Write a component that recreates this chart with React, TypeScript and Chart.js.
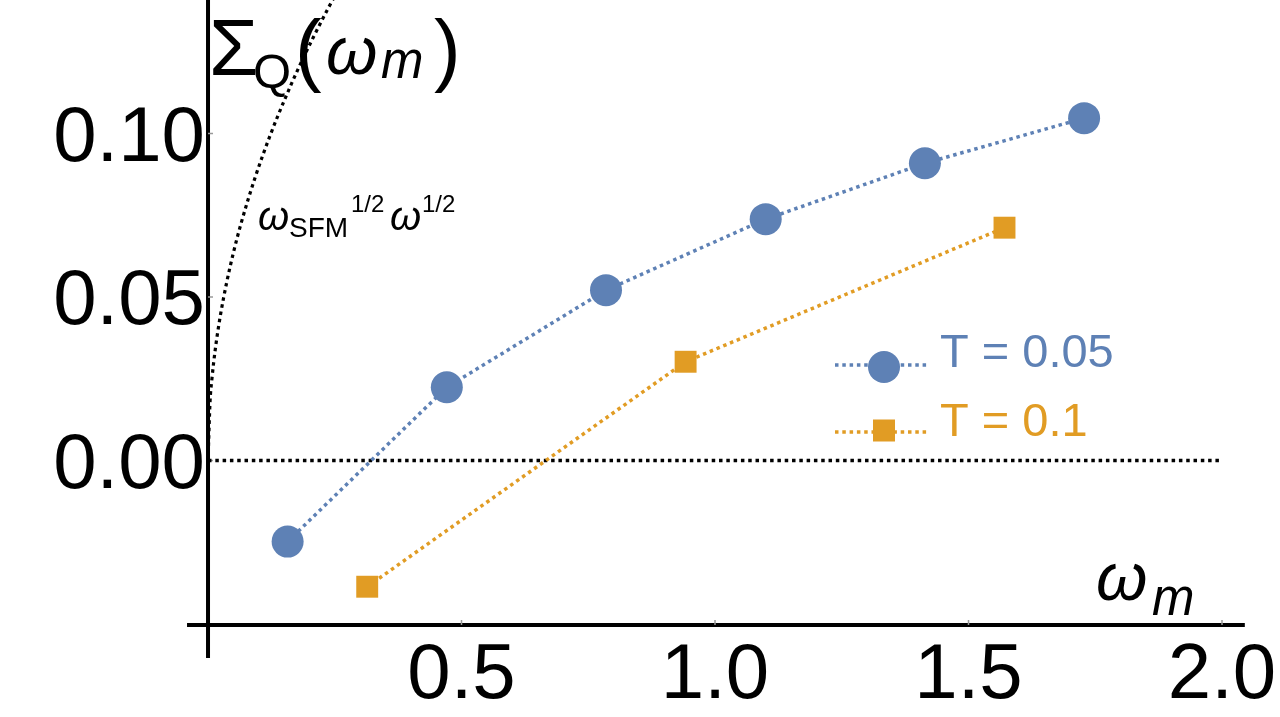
import { useEffect, useRef } from "react"
import { Chart, registerables, type Plugin } from "chart.js"

Chart.register(...registerables)

// Matsubara frequencies and self-energy
const omegaT005 = [0.157, 0.471, 0.785, 1.1, 1.414, 1.728]
const sigmaT005 = [-0.0248, 0.0224, 0.0521, 0.0738, 0.0909, 0.1047]
const omegaT01 = [0.314, 0.942, 1.571]
const sigmaT01 = [-0.0386, 0.0302, 0.0712]

// dotted guide curve (ω_SFM^1/2 ω^1/2)
const guideOmega = [0, 0.004, 0.008, 0.014, 0.024, 0.037, 0.05, 0.065, 0.093, 0.122, 0.152, 0.18, 0.207, 0.237, 0.26]
const guideSigma = [0, 0.018, 0.0254, 0.0336, 0.044, 0.0546, 0.0635, 0.0724, 0.0866, 0.0992, 0.1107, 0.1205, 0.1292, 0.1383, 0.1448]

const zeroOmega = [0, 2.0]
const zeroSigma = [0, 0]

const xTicks = [0.5, 1.0, 1.5, 2.0]
const yTicks = [0.0, 0.05, 0.1]
const seriesNames = ["T = 0.05", "T = 0.1"]

const BLUE = "#5e81b5"
const ORANGE = "#e19c24"
const FONT = '"Liberation Sans", Arial, sans-serif'
const DOT = [3.5, 3.8]

const X_MIN = -0.4103
const X_MAX = 2.1144
const Y_MIN = -0.07844
const Y_MAX = 0.14083
const X_AXIS_AT = -0.0503

const pts = (xs: number[], ys: number[]) => xs.map((x, i) => ({ x, y: ys[i] }))

function txt(ctx: CanvasRenderingContext2D, s: string, x: number, y: number, font: string, align: CanvasTextAlign = "left") {
  ctx.font = font
  ctx.textAlign = align
  ctx.fillText(s, x, y)
}

const frame: Plugin = {
  id: "frame",
  beforeDatasetsDraw(chart) {
    const { ctx } = chart
    const x = chart.scales.x
    const y = chart.scales.y
    const x0 = x.getPixelForValue(0)
    const yAxis = y.getPixelForValue(X_AXIS_AT)
    ctx.save()
    ctx.strokeStyle = "#000"
    ctx.lineWidth = 4
    ctx.beginPath()
    ctx.moveTo(x0, y.getPixelForValue(Y_MAX))
    ctx.lineTo(x0, y.getPixelForValue(-0.0604))
    ctx.moveTo(x.getPixelForValue(-0.0414), yAxis)
    ctx.lineTo(x.getPixelForValue(2.045), yAxis)
    ctx.stroke()

    // tiny tick marks
    ctx.strokeStyle = "#999"
    ctx.lineWidth = 1.5
    ctx.beginPath()
    xTicks.forEach((t) => {
      const px = x.getPixelForValue(t)
      ctx.moveTo(px, yAxis)
      ctx.lineTo(px, yAxis - 5)
    })
    yTicks.forEach((t) => {
      const py = y.getPixelForValue(t)
      ctx.moveTo(x0, py)
      ctx.lineTo(x0 + 5, py)
    })
    ctx.stroke()

    ctx.fillStyle = "#000"
    ctx.textBaseline = "alphabetic"
    xTicks.forEach((t) => {
      txt(ctx, t.toFixed(1), x.getPixelForValue(t), 698, `78px ${FONT}`, "center")
    })
    yTicks.forEach((t) => {
      txt(ctx, t.toFixed(2), 205, y.getPixelForValue(t) + 27, `78px ${FONT}`, "right")
    })
    ctx.restore()
  },
  afterDatasetsDraw(chart) {
    const { ctx } = chart
    ctx.save()
    ctx.fillStyle = "#000"
    ctx.textBaseline = "alphabetic"

    // axis labels
    txt(ctx, "Σ", 209, 75, `80px ${FONT}`)
    txt(ctx, "Q", 253, 88, `49px ${FONT}`)
    txt(ctx, "(", 295, 76, `80px ${FONT}`)
    txt(ctx, "ω", 326, 74, `italic 66px ${FONT}`)
    txt(ctx, "m", 381, 78, `italic 51px ${FONT}`)
    txt(ctx, ")", 434, 76, `80px ${FONT}`)

    txt(ctx, "ω", 1096, 600, `italic 66px ${FONT}`)
    txt(ctx, "m", 1152, 615, `italic 51px ${FONT}`)

    // guide curve annotation
    txt(ctx, "ω", 258, 230, `italic 40px ${FONT}`)
    txt(ctx, "SFM", 289, 237, `28px ${FONT}`)
    txt(ctx, "1/2", 351, 212, `24px ${FONT}`)
    txt(ctx, "ω", 390, 230, `italic 40px ${FONT}`)
    txt(ctx, "1/2", 422, 212, `24px ${FONT}`)

    // legend
    const rows = [
      { name: seriesNames[0], color: BLUE, lineY: 365, markY: 367, textY: 367, circle: true },
      { name: seriesNames[1], color: ORANGE, lineY: 432, markY: 430.5, textY: 436, circle: false },
    ]
    rows.forEach((r) => {
      ctx.strokeStyle = r.color
      ctx.lineWidth = 3.5
      ctx.setLineDash(DOT)
      ctx.beginPath()
      ctx.moveTo(835, r.lineY)
      ctx.lineTo(929, r.lineY)
      ctx.stroke()
      ctx.setLineDash([])
      ctx.fillStyle = r.color
      if (r.circle) {
        ctx.beginPath()
        ctx.arc(884, r.markY, 16, 0, Math.PI * 2)
        ctx.fill()
      } else {
        ctx.fillRect(884 - 11, r.markY - 11, 22, 22)
      }
      txt(ctx, r.name, 940, r.textY, `47px ${FONT}`)
    })
    ctx.restore()
  },
}

export default function App() {
  const canvasRef = useRef<HTMLCanvasElement>(null)

  useEffect(() => {
    if (!canvasRef.current) return
    const chart = new Chart(canvasRef.current, {
      type: "scatter",
      data: {
        datasets: [
          {
            label: "guide",
            data: pts(guideOmega, guideSigma),
            showLine: true,
            borderColor: "#000",
            borderWidth: 3.2,
            borderDash: DOT,
            pointRadius: 0,
            cubicInterpolationMode: "monotone",
            order: 3,
          },
          {
            label: "zero",
            data: pts(zeroOmega, zeroSigma),
            showLine: true,
            borderColor: "#000",
            borderWidth: 3.5,
            borderDash: DOT,
            pointRadius: 0,
            order: 3,
          },
          {
            label: seriesNames[1],
            data: pts(omegaT01, sigmaT01),
            showLine: true,
            borderColor: ORANGE,
            borderWidth: 3.5,
            borderDash: DOT,
            pointStyle: "rect",
            pointRadius: 15.5,
            pointBackgroundColor: ORANGE,
            pointBorderWidth: 0,
            order: 2,
          },
          {
            label: seriesNames[0],
            data: pts(omegaT005, sigmaT005),
            showLine: true,
            borderColor: BLUE,
            borderWidth: 3.5,
            borderDash: DOT,
            pointStyle: "circle",
            pointRadius: 16,
            pointBackgroundColor: BLUE,
            pointBorderWidth: 0,
            order: 1,
          },
        ],
      },
      options: {
        animation: false,
        responsive: true,
        maintainAspectRatio: false,
        layout: { padding: 0, autoPadding: false },
        plugins: { legend: { display: false }, tooltip: { enabled: false } },
        scales: {
          x: { type: "linear", min: X_MIN, max: X_MAX, display: false },
          y: { type: "linear", min: Y_MIN, max: Y_MAX, display: false },
        },
      },
      plugins: [frame],
    })
    return () => chart.destroy()
  }, [])

  return (
    <div style={{ position: "fixed", left: 0, top: 0, width: 1280, height: 717, background: "#fff" }}>
      <canvas ref={canvasRef} />
    </div>
  )
}
